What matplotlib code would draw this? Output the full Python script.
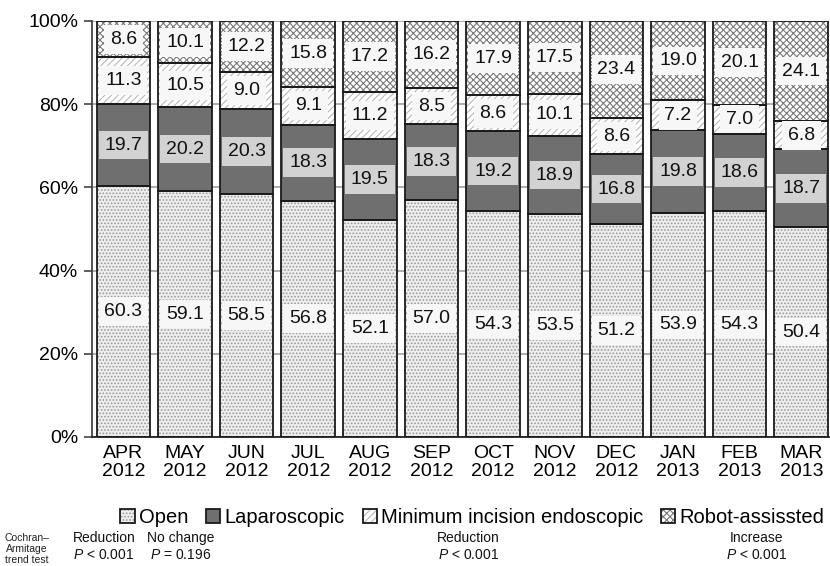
import matplotlib
matplotlib.use("Agg")
import matplotlib.pyplot as plt
import numpy as np
from matplotlib.legend_handler import HandlerTuple

months = ["APR\n2012", "MAY\n2012", "JUN\n2012", "JUL\n2012", "AUG\n2012", "SEP\n2012",
          "OCT\n2012", "NOV\n2012", "DEC\n2012", "JAN\n2013", "FEB\n2013", "MAR\n2013"]
open_vals = [60.3, 59.1, 58.5, 56.8, 52.1, 57.0, 54.3, 53.5, 51.2, 53.9, 54.3, 50.4]
lap_vals = [19.7, 20.2, 20.3, 18.3, 19.5, 18.3, 19.2, 18.9, 16.8, 19.8, 18.6, 18.7]
mini_vals = [11.3, 10.5, 9.0, 9.1, 11.2, 8.5, 8.6, 10.1, 8.6, 7.2, 7.0, 6.8]
robot_vals = [8.6, 10.1, 12.2, 15.8, 17.2, 16.2, 17.9, 17.5, 23.4, 19.0, 20.1, 24.1]
series_names = ["Open", "Laparoscopic", "Minimum incision endoscopic", "Robot-assissted"]
trend_results = ["Reduction", "No change", "Reduction", "Increase"]
trend_p = ["$\\it{P}$ < 0.001", "$\\it{P}$ = 0.196", "$\\it{P}$ < 0.001", "$\\it{P}$ < 0.001"]
yticks = [0, 20, 40, 60, 80, 100]

plt.rcParams['font.family'] = ['Liberation Sans', 'DejaVu Sans']
plt.rcParams['mathtext.fontset'] = 'custom'
plt.rcParams['mathtext.it'] = 'Liberation Sans:italic'
plt.rcParams['mathtext.rm'] = 'Liberation Sans'
plt.rcParams['hatch.linewidth'] = 0.8

fig = plt.figure(figsize=(8.3, 5.66), dpi=100)
ax = fig.add_axes([0.1108, 0.228, 0.888, 0.735])

x = np.arange(len(months))
width = 0.87
styles = [
    dict(face="#eeeeee", hc="#9a9a9a", hatch="....."),
    dict(face="#6f6f6f", hc="#6f6f6f", hatch=None),
    dict(face="#ffffff", hc="#b8b8b8", hatch="/////"),
    dict(face="#ffffff", hc="#7a7a7a", hatch="xxxxx"),
]
label_box = ["#f7f7f7", "#d2d2d2", "#f7f7f7", "#f7f7f7"]
all_vals = [open_vals, lap_vals, mini_vals, robot_vals]

bottom = np.zeros(len(months))
handles = []
for vals, st, name, bc in zip(all_vals, styles, series_names, label_box):
    vals = np.array(vals)
    b1 = ax.bar(x, vals, width, bottom=bottom, color=st["face"], edgecolor=st["hc"],
                hatch=st["hatch"], linewidth=0, zorder=2)
    b2 = ax.bar(x, vals, width, bottom=bottom, fill=False, edgecolor="#1a1a1a",
                linewidth=1.3, zorder=3)
    handles.append((b1.patches[0], b2.patches[0]))
    for xi, v, b in zip(x, vals, bottom):
        ax.text(xi, b + v / 2, f"{v:.1f}", ha="center", va="center", fontsize=14,
                color="#111111", zorder=4,
                bbox=dict(boxstyle="square,pad=0.3", facecolor=bc, edgecolor="none"))
    bottom = bottom + vals

ax.set_xlim(-0.51, 11.45)
ax.set_ylim(0, 100)
ax.set_yticks(yticks)
ax.set_yticklabels([f"{t}%" for t in yticks], fontsize=14)
ax.set_xticks(x)
ax.set_xticklabels(months, fontsize=14, linespacing=1.05)
ax.tick_params(axis="x", length=0, pad=6)
ax.tick_params(axis="y", length=6, width=1.2, color="#444444", direction="out", pad=4)
ax.yaxis.grid(True, color="#a0a0a0", linewidth=1.2, zorder=0)
ax.set_axisbelow(True)
for s in ["top", "right"]:
    ax.spines[s].set_visible(False)
ax.spines["left"].set_color("#444444")
ax.spines["left"].set_linewidth(1.3)
ax.spines["bottom"].set_color("#222222")
ax.spines["bottom"].set_linewidth(1.3)

leg = fig.legend(handles, series_names, loc="center", bbox_to_anchor=(0.569, 0.086),
                 ncol=4, frameon=False, fontsize=14.5, handlelength=0.7, handleheight=0.7,
                 handletextpad=0.2, columnspacing=0.9, borderpad=0,
                 handler_map={tuple: HandlerTuple(ndivide=1, pad=0)})

fig.text(0.032, 0.030, "Cochran–\nArmitage\ntrend test", fontsize=7.5, ha="center",
         va="center", linespacing=1.1, color="#222222")
trend_x = [0.125, 0.218, 0.564, 0.912]
for tx, r, p in zip(trend_x, trend_results, trend_p):
    fig.text(tx, 0.049, r, fontsize=10, ha="center", va="center", color="#111111")
    fig.text(tx, 0.019, p, fontsize=10, ha="center", va="center", color="#111111")

fig.savefig("out.png", dpi=100)
